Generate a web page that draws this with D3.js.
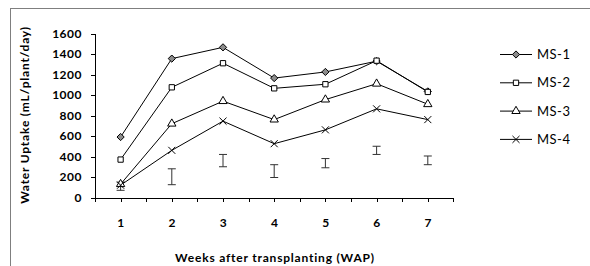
<!DOCTYPE html>
<html>
<head>
<meta charset="utf-8">
<script src="https://cdn.jsdelivr.net/npm/d3@7"></script>
<style>
  body { margin: 0; background: #fff; }
  svg text { font-family: Lato, "Open Sans", sans-serif; fill: #000; }
  .axis path, .axis line { stroke: #000; stroke-width: 1; shape-rendering: crispEdges; }
  .tick-label { font-size: 12px; font-weight: bold; letter-spacing: 0.5px; }
  .axis-title { font-size: 12px; font-weight: bold; letter-spacing: 0.8px; }
  .legend-label { font-size: 13px; letter-spacing: 0.5px; }
</style>
</head>
<body>
<div id="chart"></div>
<script>
// weeks after transplanting
const weeks = [1, 2, 3, 4, 5, 6, 7];
const yTicks = [0, 200, 400, 600, 800, 1000, 1200, 1400, 1600];

// water uptake (mL/plant/day) per treatment
const ms1 = [590, 1355, 1465, 1165, 1225, 1330, 1035];
const ms2 = [370, 1075, 1310, 1065, 1105, 1335, 1030];
const ms3 = [130, 720, 940, 760, 955, 1110, 910];
const ms4 = [120, 460, 745, 525, 660, 865, 760];

// standalone error bars (low / high)
const errLow = [70, 125, 300, 195, 290, 420, 320];
const errHigh = [150, 280, 420, 320, 380, 500, 405];

const seriesNames = ['MS-1', 'MS-2', 'MS-3', 'MS-4'];
const seriesValues = [ms1, ms2, ms3, ms4];

// square-ish diamond (rotated square) like the spreadsheet marker
const diamond = {
  draw(ctx, size) {
    const r = Math.sqrt(size / 2);
    ctx.moveTo(0, -r);
    ctx.lineTo(r, 0);
    ctx.lineTo(0, r);
    ctx.lineTo(-r, 0);
    ctx.closePath();
  }
};

const seriesSymbols = [diamond, d3.symbolSquare, d3.symbolTriangle, d3.symbolX];
const seriesFill = ['#8c8c8c', '#fff', '#fff', 'none'];
const symbolSize = [26, 28, 30, 34];

const width = 590, height = 266;

const svg = d3.select('#chart').append('svg')
  .attr('width', width)
  .attr('height', height);

// outer frame
svg.append('rect')
  .attr('x', 10.5).attr('y', 8.5)
  .attr('width', 600).attr('height', 300)
  .attr('fill', 'none')
  .attr('stroke', '#7f7f7f');

// scales
const x = d3.scaleLinear().domain([0.5, 7.5]).range([95, 453.4]);
const y = d3.scaleLinear().domain([0, 1600]).range([197.5, 33.5]);

// y-axis
const yAxis = d3.axisLeft(y)
  .tickValues(yTicks)
  .tickSize(4)
  .tickSizeOuter(0)
  .tickPadding(9)
  .tickFormat(d3.format('d'));

svg.append('g')
  .attr('class', 'axis')
  .attr('transform', 'translate(95,0)')
  .call(yAxis)
  .selectAll('text')
  .attr('class', 'tick-label');

// x-axis (ticks at category centres and boundaries)
const xTickVals = d3.range(0.5, 7.51, 0.5);
const xAxis = d3.axisBottom(x)
  .tickValues(xTickVals)
  .tickSize(4)
  .tickSizeOuter(0)
  .tickPadding(17)
  .tickFormat(d => Number.isInteger(d) ? d : '');

svg.append('g')
  .attr('class', 'axis')
  .attr('transform', `translate(0,${ y(0) })`)
  .call(xAxis)
  .selectAll('text')
  .attr('class', 'tick-label');

// axis titles
svg.append('text')
  .attr('class', 'axis-title')
  .attr('x', 275)
  .attr('y', 262)
  .attr('text-anchor', 'middle')
  .text('Weeks after transplanting (WAP)');

svg.append('text')
  .attr('class', 'axis-title')
  .attr('transform', 'translate(29,115) rotate(-90)')
  .attr('text-anchor', 'middle')
  .text('Water Uptake (mL/plant/day)');

// error bars
const errGroup = svg.append('g');
weeks.forEach((w, i) => {
  const cx = x(w);
  errGroup.append('line')
    .attr('x1', cx).attr('x2', cx)
    .attr('y1', y(errLow[i])).attr('y2', y(errHigh[i]))
    .attr('stroke', '#333');
  [errLow[i], errHigh[i]].forEach(v => {
    errGroup.append('line')
      .attr('x1', cx - 4).attr('x2', cx + 4)
      .attr('y1', y(v)).attr('y2', y(v))
      .attr('stroke', '#333');
  });
});

// series lines + markers
const line = d3.line()
  .x((d, i) => x(weeks[i]))
  .y(d => y(d));

seriesValues.forEach(vals => {
  svg.append('path')
    .datum(vals)
    .attr('d', line)
    .attr('fill', 'none')
    .attr('stroke', '#000')
    .attr('stroke-width', 1);
});

seriesValues.forEach((vals, s) => {
  svg.append('g')
    .selectAll('path')
    .data(vals)
    .join('path')
    .attr('transform', (d, i) => `translate(${ x(weeks[i]) },${ y(d) })`)
    .attr('d', d3.symbol().type(seriesSymbols[s]).size(symbolSize[s]))
    .attr('fill', seriesFill[s])
    .attr('stroke', '#000')
    .attr('stroke-width', 1);
});

// legend
const legend = svg.append('g');
seriesNames.forEach((name, s) => {
  const ly = 54.5 + s * 28.3;
  legend.append('line')
    .attr('x1', 500).attr('x2', 532)
    .attr('y1', ly).attr('y2', ly)
    .attr('stroke', '#000');
  legend.append('path')
    .attr('transform', `translate(516,${ ly })`)
    .attr('d', d3.symbol().type(seriesSymbols[s]).size(symbolSize[s]))
    .attr('fill', seriesFill[s])
    .attr('stroke', '#000');
  legend.append('text')
    .attr('class', 'legend-label')
    .attr('x', 537)
    .attr('y', ly + 4.5)
    .text(name);
});
</script>
</body>
</html>
